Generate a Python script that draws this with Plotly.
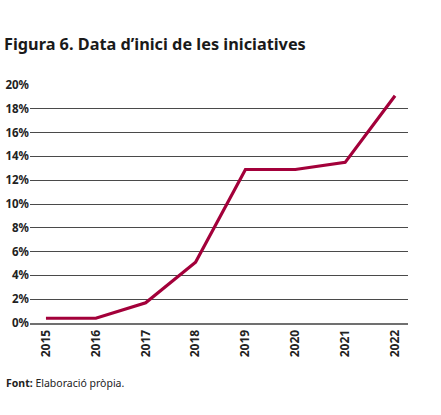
import plotly.graph_objects as go

years = ["2015", "2016", "2017", "2018", "2019", "2020", "2021", "2022"]
share_pct = [0.4, 0.4, 1.7, 5.1, 12.9, 12.9, 13.5, 19.1]
y_ticks = [0, 2, 4, 6, 8, 10, 12, 14, 16, 18, 20]

fig = go.Figure()
fig.add_trace(go.Scatter(
    x=list(range(len(years))), y=share_pct, mode="lines",
    line=dict(color="#A3003A", width=3.2),
    hoverinfo="skip", showlegend=False,
))

fig.update_layout(
    width=441, height=415,
    margin=dict(l=30, r=33, t=85, b=92, autoexpand=False),
    paper_bgcolor="white", plot_bgcolor="white",
    font=dict(family="Noto Sans", color="#222"),
    title=dict(
        text="<b>Figura 6. Data d’inici de les iniciatives</b>",
        x=0, xanchor="left", y=0.893, yanchor="middle",
        pad=dict(l=4),
        font=dict(size=16.3, color="#1a1a1a", family="Noto Sans"),
    ),
    xaxis=dict(
        range=[-0.32, 7.26], automargin=False,
        tickmode="array", tickvals=list(range(len(years))), ticktext=[f"<b>{y}</b>" for y in years],
        tickangle=-90, tickfont=dict(size=12, color="#222"),
        showgrid=False, zeroline=False,
        showline=True, linecolor="#707070", linewidth=2,
        ticks="",
    ),
    yaxis=dict(
        range=[0, 20], automargin=False,
        tickmode="array", tickvals=y_ticks, ticktext=[f"<b>{v}%</b>" for v in y_ticks],
        tickfont=dict(size=11.5, color="#222"),
        showgrid=True, gridcolor="#4a4a4a", gridwidth=1,
        zeroline=False, ticks="", ticklen=0,
    ),
    annotations=[dict(
        text="<b>Font:</b> Elaboració pròpia.",
        xref="paper", yref="paper", x=-0.069, y=-0.254,
        xanchor="left", yanchor="middle", showarrow=False,
        font=dict(size=10.5, color="#222", family="Noto Sans"),
    )],
)

fig.write_html("out.html", config={"displayModeBar": False},
               post_script="document.body.style.margin='0px';")
